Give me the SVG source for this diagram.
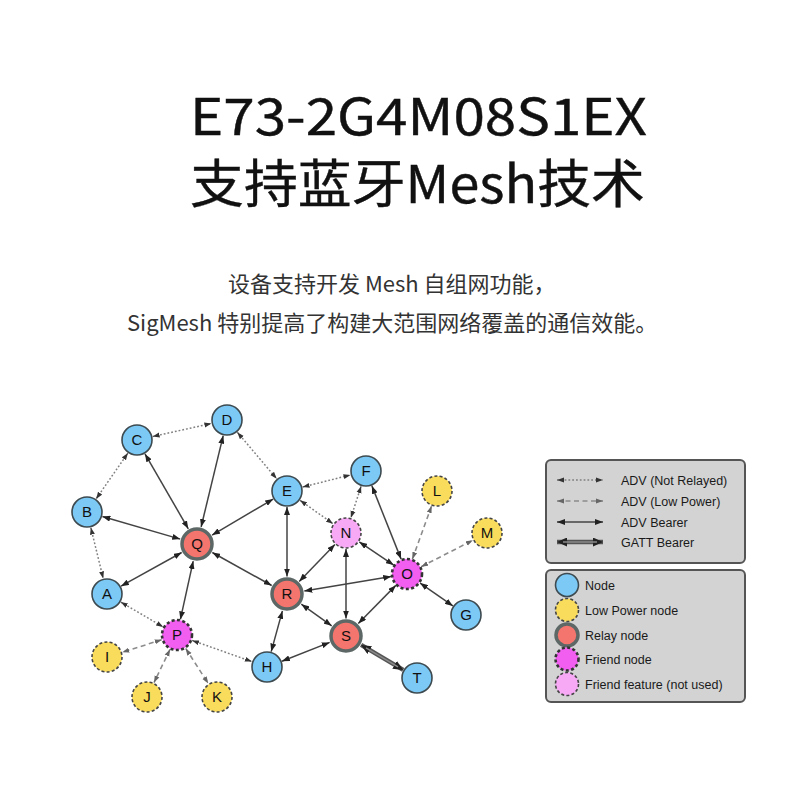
<svg xmlns="http://www.w3.org/2000/svg" width="800" height="800" viewBox="0 0 800 800">
<style>
.title{font-family:"Noto Sans CJK SC","Noto Sans",sans-serif;fill:#111;font-weight:400;stroke:#111;stroke-width:0.4}
.sub{font-family:"Noto Sans CJK SC","Noto Sans",sans-serif;fill:#333;font-size:22px}
.lbl{font-family:"Liberation Sans",Arial,sans-serif;font-size:15px;fill:#111;text-anchor:middle}
.lg{font-family:"Liberation Sans",Arial,sans-serif;font-size:12.5px;fill:#1a1a1a}
.blue{fill:#7cc9f6;stroke:#3d4a50;stroke-width:1.6}
.yellow{fill:#fadc5c;stroke:#444;stroke-width:1.6;stroke-dasharray:3 2.2}
.relay{fill:#f4756d;stroke:#5d6866;stroke-width:3.5}
.friend{fill:#f25ff0;stroke:#333;stroke-width:2.6;stroke-dasharray:3 2.4}
.ffeat{fill:#f8a9f6;stroke:#444;stroke-width:1.6;stroke-dasharray:3 2.2}
.dot{stroke:#808080;stroke-width:1.5;stroke-dasharray:1.8 2;fill:none;marker-start:url(#ad);marker-end:url(#ad)}
.dash{stroke:#8c8c8c;stroke-width:1.6;stroke-dasharray:5 3.5;fill:none;marker-start:url(#ah);marker-end:url(#ah)}
.sol{stroke:#444;stroke-width:1.5;fill:none;marker-start:url(#as);marker-end:url(#as)}
.gatt{stroke:#555;stroke-width:4.5;fill:none;marker-start:url(#ag);marker-end:url(#ag)}
.gattin{stroke:#8a8a8a;stroke-width:1.5;fill:none}
.box{fill:#d3d3d3;stroke:#555;stroke-width:2}
</style>
<defs>
<marker id="as" markerUnits="userSpaceOnUse" markerWidth="8" markerHeight="6" refX="8" refY="3" orient="auto-start-reverse"><path d="M0,0 L8,3 L0,6 z" fill="#222"/></marker>
<marker id="ad" markerUnits="userSpaceOnUse" markerWidth="7" markerHeight="6" refX="7" refY="3" orient="auto-start-reverse"><path d="M0,0.5 L7,3 L0,5.5 z" fill="#333"/></marker>
<marker id="ah" markerUnits="userSpaceOnUse" markerWidth="7" markerHeight="6" refX="7" refY="3" orient="auto-start-reverse"><path d="M0,0.5 L7,3 L0,5.5 z" fill="#666"/></marker>
<marker id="ag" markerUnits="userSpaceOnUse" markerWidth="10" markerHeight="9" refX="10" refY="4.5" orient="auto-start-reverse"><path d="M0,0 L10,4.5 L0,9 z" fill="#222"/></marker>
</defs>
<rect width="800" height="800" fill="#fff"/>
<text class="title" x="190" y="135" font-size="50" textLength="457" lengthAdjust="spacingAndGlyphs">E73-2G4M08S1EX</text>
<text class="title" x="190" y="203" font-size="52" textLength="455" lengthAdjust="spacingAndGlyphs">支持蓝牙Mesh技术</text>
<text class="sub" x="228" y="292">设备支持开发 Mesh 自组网功能，</text>
<text class="sub" x="127" y="331">SigMesh 特别提高了构建大范围网络覆盖的通信效能。</text>
<g id="connectors">
<line class="dot" x1="152.6" y1="436.5" x2="211.4" y2="423.5"/>
<line class="dot" x1="127.9" y1="453.1" x2="96.1" y2="498.9"/>
<line class="dot" x1="90.8" y1="527.6" x2="103.2" y2="578.4"/>
<line class="dot" x1="237.3" y1="432.2" x2="276.7" y2="478.8"/>
<line class="dot" x1="302.5" y1="487.1" x2="350.5" y2="474.9"/>
<line class="dot" x1="300" y1="500.3" x2="333" y2="523.7"/>
<line class="dot" x1="361.1" y1="486.2" x2="350.9" y2="517.8"/>
<line class="dot" x1="120.8" y1="602.1" x2="163.2" y2="626.9"/>
<line class="dot" x1="192.1" y1="640.4" x2="251.9" y2="661.6"/>
<line class="dash" x1="412.4" y1="559" x2="431.6" y2="506"/>
<line class="dash" x1="421.2" y1="566.7" x2="472.8" y2="540.3"/>
<line class="dash" x1="161.7" y1="639.8" x2="122.3" y2="652.2"/>
<line class="dash" x1="170" y1="649.4" x2="154" y2="682.6"/>
<line class="dash" x1="185.7" y1="648.4" x2="208.3" y2="683.6"/>
<line class="sol" x1="145" y1="453.9" x2="188.3" y2="528.8"/>
<line class="sol" x1="223.2" y1="435.6" x2="201.1" y2="527"/>
<line class="sol" x1="102.4" y1="516.5" x2="180.2" y2="539.1"/>
<line class="sol" x1="273.2" y1="499.1" x2="212.1" y2="535.1"/>
<line class="sol" x1="181.7" y1="552.5" x2="121" y2="586.2"/>
<line class="sol" x1="193.2" y1="561.1" x2="180.4" y2="619.4"/>
<line class="sol" x1="212.3" y1="552.5" x2="271.7" y2="585.5"/>
<line class="sol" x1="287" y1="507" x2="287" y2="576.5"/>
<line class="sol" x1="299.2" y1="581.4" x2="334.9" y2="544.5"/>
<line class="sol" x1="304.3" y1="591.1" x2="391.2" y2="576.6"/>
<line class="sol" x1="301.3" y1="604.2" x2="331.7" y2="625.8"/>
<line class="sol" x1="282.4" y1="610.9" x2="271.2" y2="651.6"/>
<line class="sol" x1="346" y1="549" x2="346" y2="618.5"/>
<line class="sol" x1="359.3" y1="541.9" x2="393.7" y2="565.1"/>
<line class="sol" x1="371.9" y1="485.9" x2="401.1" y2="559.1"/>
<line class="sol" x1="395.8" y1="585.4" x2="358.3" y2="623.5"/>
<line class="sol" x1="420.1" y1="583.1" x2="452.9" y2="605.9"/>
<line class="sol" x1="329.7" y1="642.4" x2="281.9" y2="661.2"/>
<line class="gatt" x1="361.1" y1="644.9" x2="403.2" y2="669.9"/>
<line class="gattin" x1="366" y1="647.8" x2="398" y2="666.8"/>
</g>
<g id="node-A"><circle class="blue" cx="107" cy="594" r="15"/><text class="lbl" x="107" y="599">A</text></g>
<g id="node-B"><circle class="blue" cx="87" cy="512" r="15"/><text class="lbl" x="87" y="517">B</text></g>
<g id="node-C"><circle class="blue" cx="137" cy="440" r="15"/><text class="lbl" x="137" y="445">C</text></g>
<g id="node-D"><circle class="blue" cx="227" cy="420" r="15"/><text class="lbl" x="227" y="425">D</text></g>
<g id="node-E"><circle class="blue" cx="287" cy="491" r="15"/><text class="lbl" x="287" y="496">E</text></g>
<g id="node-F"><circle class="blue" cx="366" cy="471" r="15"/><text class="lbl" x="366" y="476">F</text></g>
<g id="node-G"><circle class="blue" cx="466" cy="615" r="15"/><text class="lbl" x="466" y="620">G</text></g>
<g id="node-H"><circle class="blue" cx="267" cy="667" r="15"/><text class="lbl" x="267" y="672">H</text></g>
<g id="node-I"><circle class="yellow" cx="107" cy="657" r="15"/><text class="lbl" x="107" y="662">I</text></g>
<g id="node-J"><circle class="yellow" cx="147" cy="697" r="15"/><text class="lbl" x="147" y="702">J</text></g>
<g id="node-K"><circle class="yellow" cx="217" cy="697" r="15"/><text class="lbl" x="217" y="702">K</text></g>
<g id="node-L"><circle class="yellow" cx="437" cy="491" r="15"/><text class="lbl" x="437" y="496">L</text></g>
<g id="node-M"><circle class="yellow" cx="487" cy="533" r="15"/><text class="lbl" x="487" y="538">M</text></g>
<g id="node-N"><circle class="ffeat" cx="346" cy="533" r="15"/><text class="lbl" x="346" y="538">N</text></g>
<g id="node-O"><circle class="friend" cx="407" cy="574" r="15"/><text class="lbl" x="407" y="579">O</text></g>
<g id="node-P"><circle class="friend" cx="177" cy="635" r="15"/><text class="lbl" x="177" y="640">P</text></g>
<g id="node-Q"><circle class="relay" cx="197" cy="544" r="15"/><text class="lbl" x="197" y="549">Q</text></g>
<g id="node-R"><circle class="relay" cx="287" cy="594" r="15"/><text class="lbl" x="287" y="599">R</text></g>
<g id="node-S"><circle class="relay" cx="346" cy="636" r="15"/><text class="lbl" x="346" y="641">S</text></g>
<g id="node-T"><circle class="blue" cx="417" cy="678" r="15"/><text class="lbl" x="417" y="683">T</text></g>
<g id="legend-lines">
<rect class="box" x="546" y="460" width="199" height="103" rx="5"/>
<line class="dot" x1="557" y1="480" x2="603" y2="480"/>
<line class="dash" x1="557" y1="501" x2="603" y2="501"/>
<line class="sol" x1="557" y1="522" x2="603" y2="522"/>
<line class="gatt" x1="557" y1="542" x2="603" y2="542"/>
<line class="gattin" x1="563" y1="542" x2="597" y2="542"/>
<text class="lg" x="621" y="484.5">ADV (Not Relayed)</text>
<text class="lg" x="621" y="505.5">ADV (Low Power)</text>
<text class="lg" x="621" y="526.5">ADV Bearer</text>
<text class="lg" x="621" y="546.5">GATT Bearer</text>
</g>
<g id="legend-nodes">
<rect class="box" x="546" y="570" width="199" height="132" rx="5"/>
<circle class="blue" cx="567" cy="585" r="11.5"/>
<circle class="yellow" cx="567" cy="610" r="11.5"/>
<circle class="relay" cx="567" cy="635" r="11"/>
<circle class="friend" cx="567" cy="659" r="11.5"/>
<circle class="ffeat" cx="567" cy="684" r="11.5"/>
<text class="lg" x="585" y="589.5">Node</text>
<text class="lg" x="585" y="614.5">Low Power node</text>
<text class="lg" x="585" y="639.5">Relay node</text>
<text class="lg" x="585" y="663.5">Friend node</text>
<text class="lg" x="585" y="688.5">Friend feature (not used)</text>
</g>
</svg>
